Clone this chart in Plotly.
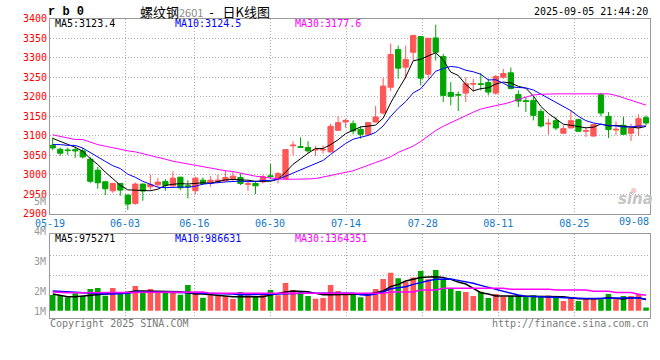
import plotly.graph_objects as go

# ---------------- data ----------------
OPEN = [3075.3, 3065.1, 3063.4, 3064.0, 3060.9, 3039.6, 3011.5, 2981.7, 2958.7, 2977.5,
        2947.7, 2926.4, 2975.8, 2968.9, 2974.1, 2982.6, 2971.5, 2993.6, 2971.5, 2958.7,
        2985.9, 2977.5, 2982.6, 2984.3, 2989.4, 2992.8, 2975.5, 2977.5, 2981.7, 2997.0,
        2990.2, 2990.2, 3074.0, 3071.9, 3069.4, 3063.0, 3063.0, 3058.3, 3113.6, 3134.9,
        3130.6, 3116.2, 3103.4, 3134.9, 3157.9, 3224.0, 3320.4, 3275.3, 3313.6, 3353.6,
        3257.4, 3350.2, 3302.5, 3210.6, 3205.5, 3208.9, 3231.9, 3232.8, 3236.2, 3208.9,
        3249.8, 3260.8, 3205.5, 3189.4, 3190.2, 3162.1, 3130.0, 3138.3, 3106.0, 3119.6,
        3140.8, 3111.1, 3099.1, 3204.7, 3149.4, 3114.5, 3126.4, 3106.0, 3120.4, 3146.0]
HIGH = [3094.9, 3069.4, 3069.4, 3073.0, 3069.4, 3045.5, 3020.0, 2984.3, 2979.2, 2978.5,
        2949.4, 2980.0, 2977.5, 3000.4, 2991.1, 2988.5, 3008.9, 2994.5, 2986.0, 2994.5,
        2992.8, 2996.2, 3000.4, 3011.5, 3007.2, 3003.0, 2984.3, 2984.3, 3000.4, 3026.8,
        3007.2, 3065.5, 3085.5, 3095.7, 3085.5, 3073.6, 3075.3, 3130.6, 3150.2, 3143.4,
        3139.1, 3123.8, 3134.9, 3175.7, 3248.1, 3336.0, 3330.6, 3330.6, 3358.7, 3354.5,
        3350.2, 3384.2, 3309.3, 3237.0, 3213.2, 3249.8, 3245.5, 3260.0, 3245.5, 3255.7,
        3271.1, 3274.5, 3215.7, 3198.7, 3198.7, 3168.9, 3143.4, 3147.7, 3126.4, 3164.7,
        3143.4, 3122.1, 3130.6, 3209.8, 3160.4, 3136.6, 3147.7, 3130.6, 3154.5, 3151.9]
LOW = [3062.6, 3048.1, 3050.6, 3043.0, 3041.3, 2977.9, 2963.8, 2947.7, 2953.6, 2946.0,
       2909.4, 2923.0, 2933.2, 2960.4, 2968.1, 2958.7, 2968.9, 2960.4, 2939.2, 2950.2,
       2973.2, 2968.9, 2977.5, 2981.7, 2984.3, 2973.2, 2958.7, 2950.2, 2977.5, 2988.5,
       2977.5, 2988.5, 3049.8, 3069.4, 3055.7, 3048.1, 3054.0, 3056.6, 3112.5, 3120.4,
       3103.4, 3092.3, 3100.0, 3133.5, 3153.6, 3214.0, 3245.5, 3245.5, 3292.3, 3228.5,
       3246.0, 3292.3, 3186.0, 3177.4, 3163.0, 3186.0, 3211.5, 3215.7, 3203.0, 3204.7,
       3245.5, 3218.3, 3173.2, 3160.4, 3139.1, 3120.4, 3102.6, 3113.6, 3105.0, 3118.5,
       3109.4, 3096.6, 3096.6, 3149.4, 3094.0, 3100.9, 3102.0, 3086.4, 3099.1, 3126.4]
CLOSE = [3068.5, 3054.9, 3061.7, 3061.0, 3045.5, 2983.0, 2979.2, 2963.8, 2977.5, 2960.4,
         2924.7, 2975.8, 2957.9, 2974.9, 2980.9, 2972.4, 2991.1, 2966.4, 2969.8, 2991.1,
         2977.5, 2985.9, 2986.0, 2992.8, 2996.2, 2977.5, 2976.5, 2971.5, 2994.5, 2995.3,
         3003.0, 3064.3, 3075.5, 3070.2, 3060.9, 3064.5, 3064.5, 3123.8, 3133.2, 3139.1,
         3111.9, 3103.4, 3133.2, 3147.7, 3226.8, 3307.6, 3272.8, 3294.9, 3356.2, 3247.2,
         3349.3, 3313.6, 3203.0, 3200.4, 3204.0, 3232.8, 3233.5, 3231.0, 3211.5, 3251.5,
         3259.1, 3220.8, 3188.5, 3187.7, 3151.9, 3124.7, 3131.5, 3119.6, 3117.9, 3138.3,
         3111.1, 3112.8, 3128.1, 3157.9, 3115.3, 3116.2, 3103.4, 3119.6, 3143.4, 3132.3]

MA5 = [3093, 3086, 3079, 3070, 3060, 3041.2, 3026.1, 3006.5, 2989.8, 2972.8,
       2961.1, 2960.4, 2959.3, 2958.7, 2962.8, 2972.4, 2975.4, 2977.1, 2976.1, 2978.2,
       2979.2, 2978.1, 2982.1, 2986.7, 2987.7, 2987.7, 2985.8, 2982.9, 2983.2, 2983.1,
       2988.2, 3005.7, 3026.5, 3041.7, 3054.8, 3067.1, 3067.1, 3076.8, 3089.4, 3105.0,
       3114.5, 3122.3, 3124.2, 3127.1, 3144.6, 3183.7, 3217.6, 3250.0, 3291.7, 3295.7,
       3304.1, 3312.2, 3293.9, 3262.7, 3254.1, 3230.8, 3214.7, 3220.3, 3222.6, 3232.1,
       3237.3, 3234.8, 3226.3, 3221.5, 3201.6, 3174.7, 3156.9, 3143.1, 3129.1, 3126.4,
       3123.7, 3119.9, 3121.6, 3129.6, 3125.0, 3126.1, 3124.2, 3122.5, 3119.6, 3123.4]
MA10 = [3077, 3077, 3075, 3075, 3068, 3056, 3045, 3034, 3023, 3015.6,
        3001.2, 2993.3, 2982.9, 2974.3, 2967.8, 2966.8, 2967.9, 2968.2, 2967.4, 2970.5,
        2975.8, 2976.8, 2979.6, 2981.4, 2983.0, 2983.5, 2982.0, 2982.5, 2985.0, 2985.4,
        2988.0, 2995.8, 3004.7, 3012.5, 3019.0, 3027.7, 3036.4, 3051.7, 3065.6, 3079.9,
        3090.8, 3094.7, 3100.5, 3108.3, 3124.8, 3149.1, 3170.0, 3187.1, 3209.4, 3220.2,
        3243.9, 3264.9, 3272.0, 3277.2, 3274.9, 3267.5, 3263.5, 3257.1, 3242.7, 3243.1,
        3234.1, 3224.8, 3223.3, 3222.1, 3216.9, 3206.0, 3195.9, 3184.7, 3175.3, 3164.0,
        3149.2, 3138.4, 3132.4, 3129.4, 3125.7, 3124.9, 3122.1, 3122.1, 3124.6, 3124.5]
MA30 = [3102, 3098, 3093, 3090, 3090, 3084, 3077, 3073, 3068.5, 3064.3,
        3061, 3058.3, 3054, 3049.8, 3045.5, 3039.6, 3034.5, 3031, 3026.8, 3023.4,
        3020, 3015.7, 3012, 3010, 3008, 3004, 2999, 2996, 2994, 2991,
        2989, 2988, 2988, 2988, 2989, 2990, 2994, 2998, 3003, 3006,
        3010, 3017, 3025, 3031, 3038, 3046, 3057, 3064, 3073, 3085,
        3100, 3113, 3124, 3133, 3144, 3153, 3160, 3168, 3173, 3177,
        3181, 3186, 3193, 3199, 3204, 3206, 3207, 3207, 3207, 3207,
        3207, 3207, 3207, 3207, 3207, 3203, 3197, 3191, 3185, 3178]

# volume in millions
VOLUME = [1.37, 1.37, 1.17, 1.52, 1.29, 1.90, 1.99, 1.32, 1.99, 1.61,
          1.61, 2.16, 1.61, 1.90, 1.67, 1.58, 1.58, 1.40, 2.25, 1.58,
          1.14, 1.35, 1.29, 1.23, 1.02, 1.64, 1.35, 1.29, 1.55, 1.81,
          1.35, 2.43, 1.81, 1.73, 1.29, 1.05, 1.11, 2.25, 1.73, 1.52,
          1.37, 1.17, 1.52, 1.90, 2.78, 3.33, 2.84, 2.54, 2.92, 3.48,
          2.75, 3.57, 2.75, 1.96, 1.73, 1.64, 1.29, 1.67, 1.11, 1.46,
          1.23, 1.29, 1.37, 1.25, 1.35, 1.20, 1.33, 1.20, 0.86, 1.20,
          0.86, 1.06, 1.03, 0.98, 1.46, 1.00, 1.29, 1.29, 1.46, 0.29]
VOL_MA5 = [1.46, 1.35, 1.23, 1.23, 1.29, 1.35, 1.46, 1.52, 1.52, 1.52,
           1.61, 1.73, 1.73, 1.73, 1.73, 1.67, 1.67, 1.67, 1.58, 1.46,
           1.46, 1.40, 1.29, 1.29, 1.23, 1.23, 1.23, 1.23, 1.23, 1.37,
           1.52, 1.64, 1.73, 1.73, 1.67, 1.52, 1.40, 1.40, 1.42, 1.42,
           1.42, 1.42, 1.46, 1.58, 1.73, 2.11, 2.31, 2.60, 2.78, 2.92,
           2.95, 2.98, 2.92, 2.75, 2.51, 2.34, 1.96, 1.58, 1.46, 1.29,
           1.29, 1.29, 1.23, 1.23, 1.23, 1.23, 1.23, 1.23, 1.23, 1.14,
           1.05, 1.05, 1.05, 1.05, 1.14, 1.08, 1.02, 1.14, 1.14, 0.98]
VOL_MA10 = [1.73, 1.67, 1.61, 1.61, 1.58, 1.52, 1.52, 1.46, 1.46, 1.46,
            1.52, 1.64, 1.64, 1.64, 1.64, 1.58, 1.58, 1.58, 1.58, 1.58,
            1.52, 1.52, 1.52, 1.52, 1.46, 1.40, 1.40, 1.40, 1.40, 1.46,
            1.46, 1.49, 1.52, 1.52, 1.52, 1.52, 1.52, 1.52, 1.52, 1.52,
            1.52, 1.40, 1.35, 1.46, 1.64, 1.93, 2.02, 2.11, 2.31, 2.49,
            2.63, 2.75, 2.78, 2.78, 2.66, 2.54, 2.40, 2.22, 2.05, 1.90,
            1.73, 1.52, 1.37, 1.26, 1.23, 1.20, 1.17, 1.17, 1.17, 1.14,
            1.11, 1.08, 1.08, 1.08, 1.08, 1.08, 1.08, 1.08, 1.14, 0.99]
VOL_MA30 = [1.64, 1.58, 1.58, 1.58, 1.58, 1.58, 1.58, 1.58, 1.58, 1.64,
            1.64, 1.64, 1.64, 1.64, 1.64, 1.64, 1.64, 1.64, 1.64, 1.64,
            1.64, 1.52, 1.52, 1.52, 1.52, 1.46, 1.46, 1.46, 1.46, 1.46,
            1.46, 1.46, 1.52, 1.52, 1.52, 1.52, 1.52, 1.46, 1.46, 1.46,
            1.46, 1.52, 1.52, 1.52, 1.52, 1.64, 1.64, 1.64, 1.64, 1.81,
            1.81, 1.81, 1.96, 1.96, 1.96, 1.96, 1.96, 1.96, 1.96, 1.96,
            1.96, 1.88, 1.88, 1.88, 1.88, 1.88, 1.88, 1.81, 1.81, 1.81,
            1.81, 1.81, 1.70, 1.70, 1.70, 1.60, 1.60, 1.60, 1.45, 1.36]

DATE_LABELS = ["05-19", "06-03", "06-16", "06-30", "07-14", "07-28", "08-11", "08-25", "09-08"]
PRICE_TICKS = [2900, 2950, 3000, 3050, 3100, 3150, 3200, 3250, 3300, 3350, 3400]
VOL_LABELS = ["5M", "4M", "3M", "2M", "1M"]
LEGEND_PRICE = ["MA5:3123.4", "MA10:3124.5", "MA30:3177.6"]
LEGEND_VOL = ["MA5:975271", "MA10:986631", "MA30:1364351"]

# ---------------- layout constants ----------------
W, H = 660, 360
RED, GREEN = "#FF5656", "#00A600"
MONO = "DejaVu Sans Mono"
GRID = "#ADADAD"
BORDER = "#9A9A9A"
LINE_COLORS = ["#000000", "#0000FF", "#FF00FF"]
TICK_POS = [-0.36, 9.63, 18.86, 28.94, 39.06, 49.27, 59.33, 69.45, 79.53]  # gridline positions (day units)
X_RANGE = [-0.36, 79.53]


def px(x):
    return x / W


def py(y):
    return 1 - y / H


days = list(range(len(CLOSE)))
bar_colors = [RED if c >= o else GREEN for o, c in zip(OPEN, CLOSE)]

fig = go.Figure()

fig.add_trace(go.Candlestick(
    x=days, open=OPEN, high=HIGH, low=LOW, close=CLOSE,
    increasing=dict(line=dict(color=RED, width=1), fillcolor=RED),
    decreasing=dict(line=dict(color=GREEN, width=1), fillcolor=GREEN),
    whiskerwidth=0, xaxis="x", yaxis="y", hoverinfo="skip", showlegend=False))

for series, col in zip([MA5, MA10, MA30], LINE_COLORS):
    fig.add_trace(go.Scatter(x=days, y=series, mode="lines",
                             line=dict(color=col, width=1), xaxis="x", yaxis="y",
                             hoverinfo="skip", showlegend=False))

fig.add_trace(go.Bar(x=days, y=VOLUME, marker=dict(color=bar_colors, line=dict(width=0)),
                     width=0.74, xaxis="x2", yaxis="y2", hoverinfo="skip", showlegend=False))

for series, col in zip([VOL_MA5, VOL_MA10, VOL_MA30], LINE_COLORS):
    fig.add_trace(go.Scatter(x=days, y=series, mode="lines",
                             line=dict(color=col, width=1.5), xaxis="x2", yaxis="y2",
                             hoverinfo="skip", showlegend=False))

xdom = [px(50), px(650)]
common_x = dict(domain=xdom, range=X_RANGE, tickvals=TICK_POS, showgrid=True,
                gridcolor=GRID, griddash="1px,2px", gridwidth=1, zeroline=False,
                showline=True, linecolor=BORDER, linewidth=1, mirror=True, ticks="",
                fixedrange=True, automargin=False)

fig.update_layout(
    width=W, height=H,
    margin=dict(l=0, r=0, t=0, b=0, pad=0, autoexpand=False),
    paper_bgcolor="white", plot_bgcolor="white",
    boxgap=0.3, boxgroupgap=0, showlegend=False,
    xaxis=dict(**common_x, anchor="y", ticktext=DATE_LABELS[:-1] + [""],
               tickfont=dict(family=MONO, size=10, color="#1478C8"),
               rangeslider=dict(visible=False)),
    yaxis=dict(domain=[py(213.7), py(18.5)], range=[PRICE_TICKS[0], PRICE_TICKS[-1]],
               tickvals=PRICE_TICKS, tickfont=dict(family=MONO, size=10, color="#FF0000"),
               showgrid=True, gridcolor=GRID, griddash="1px,2px", zeroline=False,
               showline=True, linecolor=BORDER, mirror=True, ticks="", fixedrange=True,
               automargin=False),
    xaxis2=dict(**common_x, anchor="y2", showticklabels=False),
    yaxis2=dict(domain=[py(318.3), py(234.3)], range=[-0.6667, 6.7018],
                tickvals=[3.132, 4.886], showticklabels=False,
                showgrid=True, gridcolor=GRID, griddash="1px,2px", zeroline=False,
                showline=True, linecolor=BORDER, mirror=True, ticks="", fixedrange=True,
                automargin=False),
)

ann = []


def text(x, y, s, color="#000", size=10, xanchor="left", family=MONO, **kw):
    ann.append(dict(x=px(x), y=py(y), xref="paper", yref="paper", text=s, showarrow=False,
                    xanchor=xanchor, yanchor="middle",
                    font=dict(family=family, size=size, color=color), borderpad=0, **kw))


# header
text(47, 12, "<b>r b 0</b>", size=12, family="Liberation Mono")
text(139, 11, "螺纹钢<span style='color:#8a8a8a;font-size:11px'>2601</span>\u00a0\u00a0-\u00a0\u00a0\u00a0日K线图",
     size=13, family="Noto Sans CJK SC")
text(649, 12, "2025-09-05 21:44:20", xanchor="right", size=10)

# legends
for xpos, s, col in zip([54, 174, 294], LEGEND_PRICE, LINE_COLORS):
    text(xpos, 24, s, color=col)
for xpos, s, col in zip([54, 174, 294], LEGEND_VOL, LINE_COLORS):
    text(xpos, 238.5, s, color=col)

# last date label (right-aligned inside)
text(650, 221, DATE_LABELS[-1], color="#1478C8", xanchor="right")

# volume axis labels
for ypos, s in zip([201, 231, 261, 291, 311], VOL_LABELS):
    text(47, ypos, s, color="#9A9A9A", xanchor="right")

# footer
text(49, 323.5, "Copyright 2025 SINA.COM", color="#7A7A7A")
text(650, 323.5, "http://finance.sina.com.cn", color="#7A7A7A", xanchor="right")

# watermark
text(634, 190, "●", color="#F6C9C9", size=9, xanchor="center")
text(635, 199, "<b><i>sina</i></b>", color="#C4C4C4", size=15, xanchor="center", family="DejaVu Sans")

fig.update_layout(annotations=ann)

# remove the default 8px page margin so the figure sits at the window's top-left corner
fig.write_html("out.html", config={"displayModeBar": False},
               post_script="document.body.style.margin='0px';")
